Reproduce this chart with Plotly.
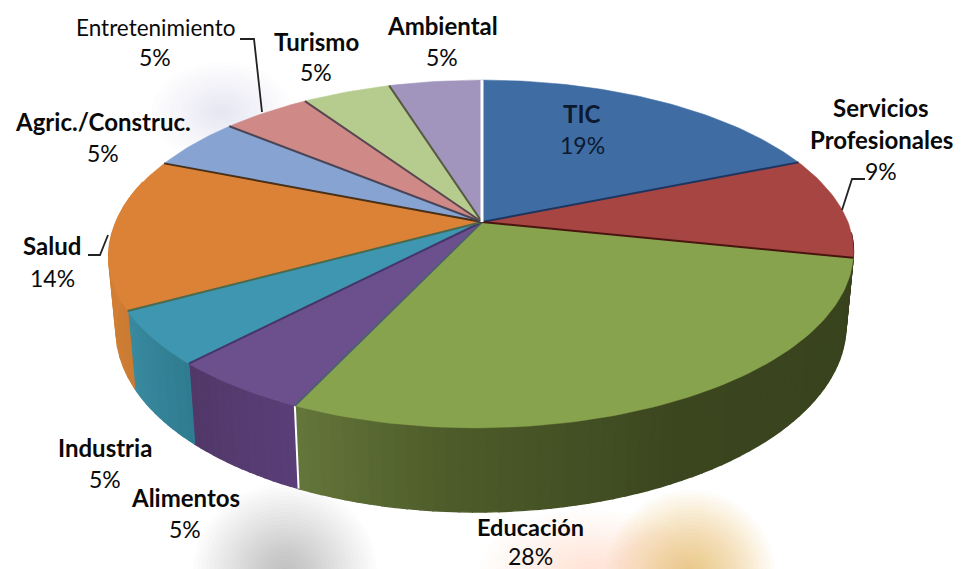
import math
import plotly.graph_objects as go

# ---- data ----
categories = ["TIC", "Servicios Profesionales", "Educación", "Alimentos", "Industria",
              "Salud", "Agric./Construc.", "Entretenimiento", "Turismo", "Ambiental"]
values = [18.8, 9.49, 28.49, 5.2, 5.0, 14.1, 4.9, 4.6, 4.6, 4.82]
display_names = [["TIC"], ["Servicios", "Profesionales"], ["Educación"], ["Alimentos"], ["Industria"],
                 ["Salud"], ["Agric./Construc."], ["Entretenimiento"], ["Turismo"], ["Ambiental"]]

# ---- style ----
W, H = 961, 569
top_colors = ["#3F6CA3", "#A64541", "#88A34D", "#6C508D", "#3E96B0",
              "#DC8236", "#86A3D1", "#CF8A88", "#B6CC8F", "#A195BD"]
edge_colors = ["#1E3560", "#4A1410", "#4F5F70", "#46356A", "#4A6A50",
               "#4A3018", "#4A4658", "#5A4650", "#565A40", "#FFFFFF"]
rim_stops = {
    1: [(0.0, "#3E1E1E"), (1.0, "#3E1E1E")],
    2: [(0.0, "#38431E"), (0.5, "#3B461F"), (0.8, "#4E5C2A"), (1.0, "#64763A")],
    3: [(0.0, "#5A3E78"), (1.0, "#513868")],
    4: [(0.0, "#2F7C90"), (1.0, "#3A8AA0")],
    5: [(0.0, "#CB7C32"), (1.0, "#D88238")],
}
CX, CY = 482.0, 222.0
A, B, K = 168.0, 366.0, 0.184
DEPTH, SHRINK = 72.0, 0.98
SKEW = 5.0


def face(frac, r=1.0):
    a = 2 * math.pi * frac
    u, v = r * math.sin(a), r * math.cos(a)
    d = 1 + K * v
    return (B * u + SKEW * min(v, 0.0)) / d, A * v / d, d


def top(frac, r=1.0):
    x, y, _ = face(frac, r)
    return CX + x, CY - y


def base(frac):
    x, y, d = face(frac)
    return CX + SHRINK * x, CY - SHRINK * y + DEPTH / d


def hex2rgb(c):
    return [int(c[i:i + 2], 16) for i in (1, 3, 5)]


def mix(stops, t):
    for (t0, c0), (t1, c1) in zip(stops, stops[1:]):
        if t <= t1:
            f = (t - t0) / (t1 - t0)
            a, b = hex2rgb(c0), hex2rgb(c1)
            return "rgb(%d,%d,%d)" % tuple(round(p + (q - p) * f) for p, q in zip(a, b))
    return stops[-1][1]


total = sum(values)
cum = [0.0]
for val in values:
    cum.append(cum[-1] + val / total)

fig = go.Figure()


def blob(cx, cy, rx, ry, color, n=22, op=0.03):
    shapes = []
    for i in range(n):
        f = 1 - i / n
        shapes.append(dict(type="circle", layer="below", xref="x", yref="y",
                           x0=cx - rx * f, x1=cx + rx * f, y0=cy - ry * f, y1=cy + ry * f,
                           fillcolor=color, opacity=op, line_width=0))
    return shapes


shapes = []
shapes += blob(285, 572, 92, 88, "#777777", op=0.02)
shapes += blob(690, 575, 85, 85, "#E0982E", op=0.03)
shapes += blob(590, 570, 110, 60, "#F2C89A", n=14, op=0.03)
shapes += blob(222, 112, 70, 50, "#A8B0C4", n=12, op=0.02)

# rims, strip by strip
for idx, stops in rim_stops.items():
    f0, f1 = cum[idx], cum[idx + 1]
    if idx == 1:
        f0 = max(f0, 0.26)
    if idx == 5:
        f1 = min(f1, 0.79)
    n = 60 if idx == 2 else 14
    for j in range(n):
        a, b = f0 + (f1 - f0) * j / n, f0 + (f1 - f0) * (j + 1) / n
        fr = [a + (b - a) * q / 3 for q in range(4)]
        pts_t = [top(q) for q in fr]
        pts_b = [base(q) for q in reversed(fr)]
        xs = [p[0] for p in pts_t + pts_b] + [pts_t[0][0]]
        ys = [p[1] for p in pts_t + pts_b] + [pts_t[0][1]]
        c = mix(stops, (j + 0.5) / n)
        fig.add_trace(go.Scatter(x=xs, y=ys, mode="lines", fill="toself", fillcolor=c,
                                 line=dict(color=c, width=1.4), hoverinfo="skip", showlegend=False))

# white seam on the side between Educación and Alimentos
t_, b_ = top(cum[3]), base(cum[3])
fig.add_trace(go.Scatter(x=[t_[0], b_[0]], y=[t_[1], b_[1]], mode="lines",
                         line=dict(color="#FFFFFF", width=2), hoverinfo="skip", showlegend=False))

# top faces
for i, cat in enumerate(categories):
    n = max(4, int(values[i] * 3))
    arc = [top(cum[i] + (cum[i + 1] - cum[i]) * j / n) for j in range(n + 1)]
    xs = [CX] + [p[0] for p in arc] + [CX]
    ys = [CY] + [p[1] for p in arc] + [CY]
    fig.add_trace(go.Scatter(x=xs, y=ys, mode="lines", fill="toself", fillcolor=top_colors[i],
                             line=dict(color=top_colors[i], width=0.5), name=cat,
                             hoverinfo="name", showlegend=False))

# dark boundaries between slices
for i in range(len(categories)):
    x1, y1 = top(cum[i + 1])
    fig.add_trace(go.Scatter(x=[CX, x1], y=[CY, y1], mode="lines",
                             line=dict(color=edge_colors[i], width=3 if i == 9 else 2),
                             hoverinfo="skip", showlegend=False))

# leader lines
leaders = [
    ([240, 254, 262], [39, 39, 112]),
    ([88, 100, 108], [255, 255, 235]),
    ([865, 852, 842], [179, 179, 210]),
]
for xs, ys in leaders:
    fig.add_trace(go.Scatter(x=xs, y=ys, mode="lines", line=dict(color="#222222", width=1.8),
                             hoverinfo="skip", showlegend=False))

# label placement: centre x, y of each text line (name lines then percentage)
placement = [
    (582, [113, 145], 24),
    (881, [107, 139, 171], 24),
    (530, [527, 556], 23.5),
    (185, [497, 529], 24),
    (105, [447, 479], 24),
    (52, [245, 278], 24),
    (103, [121, 153], 24),
    (155, [27, 57], 22.5),
    (316, [41, 72], 24),
    (442, [25, 57], 24),
]
annotations = []
for i, (x, ys, size) in enumerate(placement):
    lines = display_names[i] + ["%d%%" % round(values[i])]
    for line, y in zip(lines, ys):
        pct = line.endswith("%")
        annotations.append(dict(x=x, y=y, xref="x", yref="y", text=line, showarrow=False,
                                xanchor="center", yanchor="middle",
                                font=dict(family="Lato", size=(23 if pct else size),
                                          color="#0A0A0A" if i else "#0C1A30",
                                          weight=400 if (i == 7 or pct) else 700)))

fig.update_layout(
    width=W, height=H, margin=dict(l=0, r=0, t=0, b=0),
    paper_bgcolor="#FFFFFF", plot_bgcolor="#FFFFFF",
    xaxis=dict(range=[0, W], visible=False, fixedrange=True),
    yaxis=dict(range=[H, 0], visible=False, fixedrange=True),
    shapes=shapes, annotations=annotations, showlegend=False,
)
fig.write_html("out.html", config={"displayModeBar": False},
               post_script="document.body.style.margin='0';document.body.style.overflow='hidden';")
